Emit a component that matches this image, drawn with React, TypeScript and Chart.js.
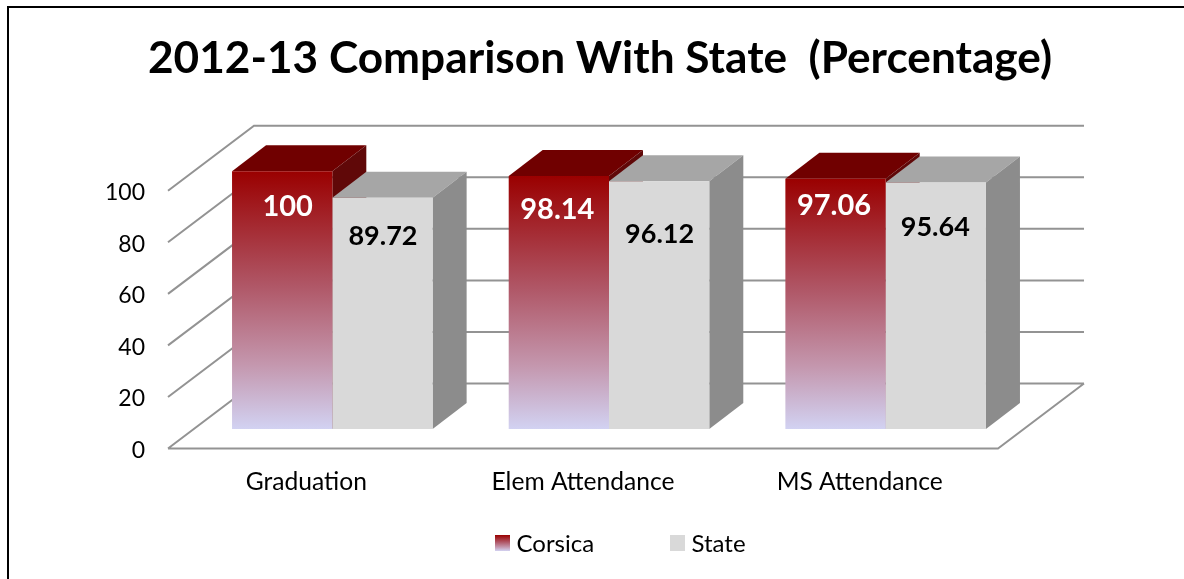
import React, { useEffect, useRef } from "react";
import { Chart, registerables } from "chart.js";

Chart.register(...registerables);

const TITLE = "2012-13 Comparison With State  (Percentage)";
const categories = ["Graduation", "Elem Attendance", "MS Attendance"];
const corsica = [100, 98.14, 97.06];
const state = [89.72, 96.12, 95.64];
const corsicaLabels = ["100", "98.14", "97.06"];
const stateLabels = ["89.72", "96.12", "95.64"];

const FONT = "Lato";
const INK = "#000000";
const GRID = "#939393";
const FLOOR = { dx: 86, dy: -65 };
const BAR_SHIFT = { dx: 26, dy: -19.5 };
const BAR_DEPTH = { dx: 34, dy: -26 };
// Hand-placed label offsets from each bar's top centre, per dataset
const LABEL_NUDGE = [
  [[5.5, 35], [-1.5, 34], [-1.5, 27]],
  [[0.5, 39], [0.5, 53], [-0.5, 45]],
];
const LABEL_SIZES = [29, 27];
const FACES = [
  { top: "#700000", side: "#600808" },
  { top: "#a6a6a6", side: "#8c8c8c" },
];
const LABEL_COLORS = ["#ffffff", "#000000"];
const valueLabels = [corsicaLabels, stateLabels];

function redGradient(ctx: CanvasRenderingContext2D, y0: number, y1: number) {
  const g = ctx.createLinearGradient(0, y0, 0, y1);
  g.addColorStop(0, "#9a0000");
  g.addColorStop(0.45, "#b05868");
  g.addColorStop(0.75, "#c497ae");
  g.addColorStop(1, "#d2d2f2");
  return g;
}

const scene3d = {
  id: "scene3d",
  beforeDatasetsDraw(chart: any) {
    const { ctx, chartArea, scales } = chart;
    const { left, right, bottom } = chartArea;
    ctx.save();
    ctx.strokeStyle = GRID;
    ctx.lineWidth = 2;
    ctx.beginPath();
    for (const t of scales.y.ticks) {
      const y = scales.y.getPixelForValue(t.value);
      ctx.moveTo(left, y);
      ctx.lineTo(left + FLOOR.dx, y + FLOOR.dy);
      ctx.lineTo(right + FLOOR.dx, y + FLOOR.dy);
    }
    ctx.moveTo(left, bottom);
    ctx.lineTo(right, bottom);
    ctx.lineTo(right + FLOOR.dx, bottom + FLOOR.dy);
    ctx.stroke();

    // top and side faces, behind every front face
    chart.data.datasets.forEach((_: any, di: number) => {
      chart.getDatasetMeta(di).data.forEach((el: any) => {
        const p = el.getProps(["x", "y", "base", "width"], true);
        const x0 = p.x - p.width / 2 + BAR_SHIFT.dx;
        const x1 = p.x + p.width / 2 + BAR_SHIFT.dx;
        const yt = p.y + BAR_SHIFT.dy;
        const yb = p.base + BAR_SHIFT.dy;
        ctx.fillStyle = FACES[di].top;
        ctx.beginPath();
        ctx.moveTo(x0, yt);
        ctx.lineTo(x0 + BAR_DEPTH.dx, yt + BAR_DEPTH.dy);
        ctx.lineTo(x1 + BAR_DEPTH.dx, yt + BAR_DEPTH.dy);
        ctx.lineTo(x1, yt);
        ctx.closePath();
        ctx.fill();
        ctx.fillStyle = FACES[di].side;
        ctx.beginPath();
        ctx.moveTo(x1, yt);
        ctx.lineTo(x1 + BAR_DEPTH.dx, yt + BAR_DEPTH.dy);
        ctx.lineTo(x1 + BAR_DEPTH.dx, yb + BAR_DEPTH.dy);
        ctx.lineTo(x1, yb);
        ctx.closePath();
        ctx.fill();
      });
    });
    ctx.restore();
  },
  beforeDatasetDraw(chart: any) {
    chart.ctx.save();
    chart.ctx.translate(BAR_SHIFT.dx, BAR_SHIFT.dy);
  },
  afterDatasetDraw(chart: any) {
    chart.ctx.restore();
  },
  afterDatasetsDraw(chart: any) {
    const { ctx } = chart;
    ctx.save();
    ctx.textAlign = "center";
    ctx.textBaseline = "middle";
    chart.data.datasets.forEach((_: any, di: number) => {
      ctx.font = `bold ${LABEL_SIZES[di]}px ${FONT}`;
      chart.getDatasetMeta(di).data.forEach((el: any, i: number) => {
        ctx.fillStyle = LABEL_COLORS[di];
        const n = LABEL_NUDGE[di][i];
        ctx.fillText(valueLabels[di][i], el.x + BAR_SHIFT.dx + n[0], el.y + BAR_SHIFT.dy + n[1]);
      });
    });
    ctx.restore();
  },
  afterDraw(chart: any) {
    const { ctx, width } = chart;
    ctx.save();
    // frame
    ctx.fillStyle = "#000000";
    ctx.fillRect(7, 6, width - 7, 2);
    ctx.fillRect(7, 6, 2, chart.height - 6);
    // legend
    ctx.font = `24px ${FONT}`;
    ctx.textBaseline = "middle";
    ctx.textAlign = "left";
    const swatchX = [495, 670];
    const ds = chart.data.datasets;
    ds.forEach((d: any, i: number) => {
      ctx.fillStyle = i === 0 ? redGradient(ctx, 535, 551) : d.backgroundColor;
      ctx.fillRect(swatchX[i], 535, 15, 16);
      ctx.fillStyle = INK;
      ctx.fillText(d.label, swatchX[i] + 21.5, 544);
    });
    ctx.restore();
  },
};

export default function App() {
  const ref = useRef<HTMLCanvasElement | null>(null);
  useEffect(() => {
    const chart = new Chart(ref.current as HTMLCanvasElement, {
      type: "bar",
      data: {
        labels: categories,
        datasets: [
          {
            label: "Corsica",
            data: corsica,
            clip: false,
            backgroundColor: (c: any) => {
              const yScale = c.chart.scales.y;
              if (!c.chart.chartArea || !yScale || typeof c.raw !== "number") return "#9a0000";
              const y0 = yScale.getPixelForValue(c.raw);
              const y1 = yScale.getPixelForValue(0);
              if (!Number.isFinite(y0) || !Number.isFinite(y1)) return "#9a0000";
              return redGradient(c.chart.ctx, y0, y1);
            },
          },
          { label: "State", data: state, clip: false, backgroundColor: "#d9d9d9" },
        ] as any,
      },
      options: {
        responsive: false,
        animation: false,
        layout: { padding: { left: 16, right: 0, top: 0, bottom: 0 } },
        datasets: { bar: { categoryPercentage: 0.725, barPercentage: 1 } },
        plugins: {
          legend: { display: false },
          tooltip: { enabled: false },
          title: {
            display: true,
            text: TITLE,
            color: INK,
            font: { family: FONT, size: 44.2, weight: "bold" },
            padding: { top: 32.5, bottom: 105.2 },
          },
        },
        scales: {
          x: {
            grid: { display: false, drawTicks: false },
            border: { display: false },
            ticks: { color: INK, font: { family: FONT, size: 24.6 }, padding: 18.5, maxRotation: 0 },
            afterFit: (s: any) => { s.height = 130.5; },
          },
          y: {
            min: 0,
            max: 100,
            grid: { display: false, drawTicks: false },
            border: { display: false },
            ticks: { stepSize: 20, color: INK, font: { family: FONT, size: 23 }, padding: 23, labelOffset: 2 },
            afterFit: (s: any) => { s.width = 152; },
          },
          y2: {
            position: "right",
            grid: { display: false, drawTicks: false },
            border: { display: false },
            ticks: { display: false },
            afterFit: (s: any) => { s.width = 186; },
          },
        },
      } as any,
      plugins: [scene3d],
    });
    return () => chart.destroy();
  }, []);
  return (
    <canvas
      ref={ref}
      width={1184}
      height={579}
      style={{ position: "absolute", left: 0, top: 0, display: "block" }}
    />
  );
}
